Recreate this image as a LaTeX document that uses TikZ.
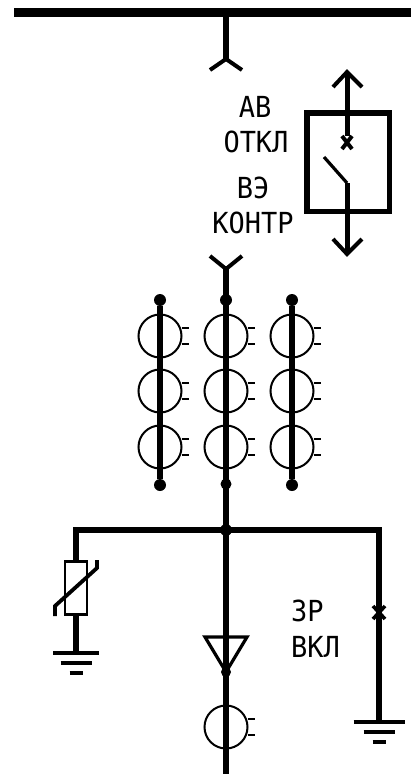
\documentclass[tikz,border=0pt]{standalone}
\usepackage{fontspec}
\newfontfamily\lblfont{DejaVu Sans Mono}
\tikzset{
  x=1pt,y=-1pt,
  wire/.style={line width=6pt,black},
  thinwire/.style={line width=2pt,black},
  midwire/.style={line width=3.2pt,black},
  barb/.style={line width=4pt,black,line join=miter},
  lbl/.style={font=\lblfont\fontsize{29}{29}\selectfont,inner sep=0pt,xscale=.93,text=black},
  dot/.style={circle,fill=black,inner sep=0pt,minimum size=#1},
  fusering/.style={circle,draw=black,line width=2pt,minimum size=43pt,inner sep=0pt},
}
\newcommand{\tvtbarbs}[1]{%
  \draw[thinwire] (#1.east) ++(-1,-8) -- ++(7,0);
  \draw[thinwire] (#1.east) ++(-1,8) -- ++(7,0);
}
\newcommand{\earthbars}[4]{% name, half widths via coordinate #1
  \draw[midwire] (#1) ++(-#2,0) -- ++(2*#2,0);
  \draw[midwire] (#1) ++(-#3,10) -- ++(2*#3,0);
  \draw[midwire] (#1) ++(-#4,20) -- ++(2*#4,0);
}
\begin{document}
\begin{tikzpicture}
\useasboundingbox (0,0) rectangle (411,774);
\fill[white] (0,0) rectangle (411,774);

% named points
\coordinate (busL) at (14,12.5);
\coordinate (busR) at (411,12.5);
\coordinate (busT) at (226,12.5);
\coordinate (topY) at (226,59);
\coordinate (lowY) at (226,269);
\coordinate (junc) at (226,530);
\coordinate (cornerL) at (76,530);
\coordinate (cornerR) at (379,530);
\coordinate (gndL) at (76,653);
\coordinate (gndR) at (379,722);
\coordinate (bottom) at (226,774);

% bus
\draw[line width=9pt] (busL) -- (busR);
\draw[wire] (busT) -- (topY);
\draw[barb] (210,70) -- (topY) -- (242,70);

% labels
\node[lbl] (ab) at (255,107) {АВ};
\node[lbl] (otkl) at (256,142) {ОТКЛ};
\node[lbl] (ve) at (253,188) {ВЭ};
\node[lbl] (kontr) at (253,223) {КОНТР};
\node[lbl,anchor=west] (zr) at (291,611) {ЗР};
\node[lbl,anchor=west] (vkl) at (291,647) {ВКЛ};

% withdrawable breaker box
\node[draw=black,line width=5.5pt,minimum width=82.5pt,minimum height=98.5pt,inner sep=0pt] (box) at (348,162) {};
\coordinate (upTip) at (347,72);
\coordinate (xmark) at (347,142);
\coordinate (bladeTop) at (324,157);
\coordinate (bladeHinge) at (347,183);
\coordinate (downTip) at (347,254);
\draw[line width=5pt] (upTip) -- (347,136);
\draw[barb] (333,87) -- (upTip) -- (362,87);
\draw[line width=4pt] (342,136) -- (352,149) (352,136) -- (342,149);
\draw[midwire] (bladeTop) -- (bladeHinge);
\draw[line width=5pt] (bladeHinge) -- (downTip);
\draw[barb] (333,239) -- (downTip) -- (362,239);

% lower contact
\draw[barb] (210,256) -- (lowY) -- (242,256);
\draw[wire] (lowY) -- (junc);
\node[dot=12pt] (dotMidTop) at (226,300) {};
\node[dot=11pt] (dotMidBot) at (226,484) {};

% current transformers
\foreach \cx/\cn in {160/a,226/b,292/c}{
  \foreach \cy/\rn in {336/one,391/two,447/three}{
    \node[fusering] (ct\cn\rn) at (\cx,\cy) {};
    \tvtbarbs{ct\cn\rn}
  }
}
\node[dot=12pt] (dotATop) at (160,300) {};
\node[dot=12pt] (dotABot) at (160,485) {};
\node[dot=12pt] (dotCTop) at (292,300) {};
\node[dot=12pt] (dotCBot) at (292,485) {};
\draw[wire] (dotATop) -- (dotABot);
\draw[wire] (dotCTop) -- (dotCBot);

% horizontal bus below
\draw[wire,line join=miter] (gndL) -- (cornerL) -- (cornerR) -- (gndR);
\node[dot=12pt] (dotJunc) at (junc) {};

% surge arrester
\node[draw=black,line width=2.5pt,fill=white,minimum width=22pt,minimum height=53pt,inner sep=0pt] (res) at (76,588) {};
\draw[line width=3.8pt] (55,616) -- (55,606) -- (97,568) -- (97,560);
\earthbars{gndL}{23}{15.5}{6.5}

% right earth
\draw[line width=3.6pt] (373,606) -- (385,619) (385,606) -- (373,619);
\draw[wire] (379,600) -- (379,625);
\earthbars{gndR}{25.5}{15.5}{6.5}

% centre: cable terminal, CT
\draw[wire] (junc) -- (bottom);
\draw[midwire,line join=miter] (205,637) -- (247,637) -- (226,672) -- cycle;
\node[dot=10pt] (dotApex) at (226,672) {};
\node[fusering] (ctd) at (226,727) {};
\tvtbarbs{ctd}
\end{tikzpicture}
\end{document}
